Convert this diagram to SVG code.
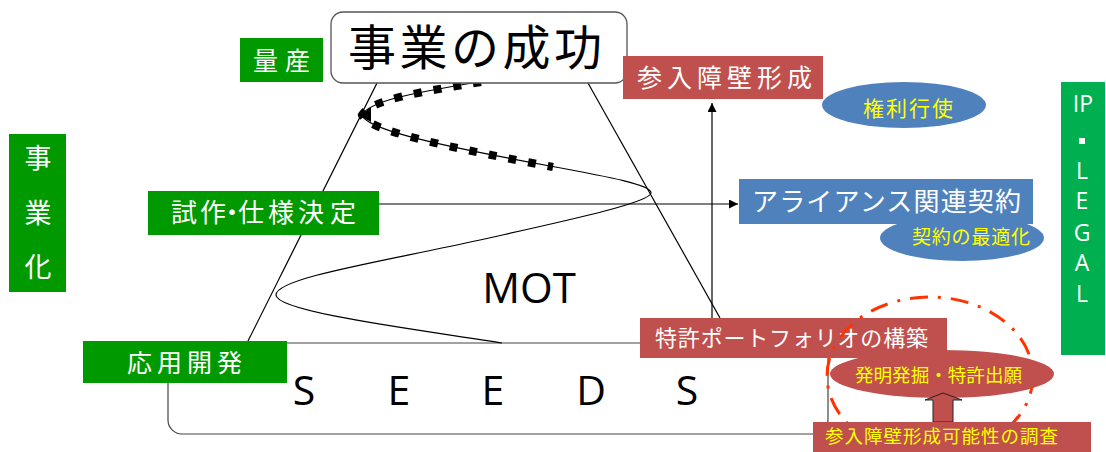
<svg xmlns="http://www.w3.org/2000/svg" width="1106" height="452" viewBox="0 0 1106 452">
<defs>
<style>
.jp{font-family:"Noto Sans CJK JP","Noto Sans",sans-serif;}
.lat{font-family:"Open Sans","Noto Sans",sans-serif;fill:#000;}
.g{fill:#009900;}
.gl{fill:#00b050;}
.r{fill:#c0504d;}
.b{fill:#4f81bd;}
.w{fill:#ffffff;}
.y{fill:#ffff00;}
.ln{stroke:#000;stroke-width:1.2;fill:none;}
</style>
<marker id="ah" viewBox="0 0 10 10" refX="10" refY="5" markerWidth="9" markerHeight="9" markerUnits="userSpaceOnUse" orient="auto">
<path d="M0,0 L10,5 L0,10 z" fill="#000"/>
</marker>
</defs>
<rect width="1106" height="452" fill="#fff"/>

<g id="connectors">
<rect x="168" y="343" width="660" height="91" rx="14" fill="none" stroke="#444" stroke-width="1.2"/>
<line class="ln" x1="377" y1="83" x2="248" y2="341"/>
<line class="ln" x1="588" y1="83" x2="720" y2="318"/>
<line class="ln" x1="379" y1="204" x2="738" y2="204" marker-end="url(#ah)"/>
<line class="ln" x1="712" y1="318" x2="712" y2="103" marker-end="url(#ah)"/>
<path class="ln" d="M478,82 C420,92 370,100 362,115 C366,128 420,142 550,166 C610,177 652,185 651,193 C650,203 560,222 480,240 C380,262 276,278 276,295 C276,312 420,330 502,343"/>
<path d="M481,82 C420,92 370,100 362,115 C366,128 420,142 553,167" fill="none" stroke="#000" stroke-width="8" stroke-dasharray="8 12"/>
<polygon points="360,116 371,107 371,122" fill="#000"/>
</g>

<g id="success">
<rect x="331" y="12" width="296" height="71" rx="12" fill="#fff" stroke="#555" stroke-width="1.3"/>
<text class="jp" x="348" y="65" font-size="48" fill="#000" textLength="254" lengthAdjust="spacing">事業の成功</text>
</g>

<g id="ryosan">
<rect class="g" x="240" y="38" width="83" height="44"/>
<text class="jp w" x="253" y="70" font-size="25" textLength="57" lengthAdjust="spacing">量産</text>
</g>

<g id="jigyoka">
<rect class="g" x="9" y="134" width="57" height="158"/>
<text class="jp w" x="38" y="168" font-size="27" text-anchor="middle">事</text>
<text class="jp w" x="38" y="223" font-size="27" text-anchor="middle">業</text>
<text class="jp w" x="38" y="277" font-size="27" text-anchor="middle">化</text>
</g>

<g id="shisaku">
<rect class="g" x="148" y="191" width="231" height="44"/>
<text class="jp w" x="171 200 219 238 268 298 330" y="222" font-size="26">試作・仕様決定</text>
</g>

<g id="oyo">
<rect class="g" x="83" y="341" width="204" height="42"/>
<text class="jp w" x="127" y="372" font-size="25" textLength="115" lengthAdjust="spacing">応用開発</text>
</g>

<g id="mot">
<text class="lat" x="529" y="303" font-size="42" text-anchor="middle">MOT</text>
</g>

<g id="seeds">
<text class="lat" x="304" y="405" font-size="41" text-anchor="middle">S</text>
<text class="lat" x="399" y="405" font-size="41" text-anchor="middle">E</text>
<text class="lat" x="493" y="405" font-size="41" text-anchor="middle">E</text>
<text class="lat" x="591" y="405" font-size="41" text-anchor="middle">D</text>
<text class="lat" x="687" y="405" font-size="41" text-anchor="middle">S</text>
</g>

<g id="sannyu">
<rect class="r" x="623" y="56" width="200" height="43"/>
<text class="jp w" x="637" y="87" font-size="25" textLength="175" lengthAdjust="spacing">参入障壁形成</text>
</g>

<g id="kenri">
<ellipse class="b" cx="904" cy="105" rx="82" ry="23"/>
<text class="jp y" x="863" y="116" font-size="21" textLength="90" lengthAdjust="spacing">権利行使</text>
</g>

<g id="keiyaku">
<ellipse class="b" cx="962" cy="238" rx="82" ry="23"/>
<text class="jp y" x="912" y="244" font-size="19" textLength="118" lengthAdjust="spacing">契約の最適化</text>
</g>

<g id="alliance">
<rect class="b" x="739" y="179" width="294" height="45"/>
<text class="jp w" x="752" y="211" font-size="26" textLength="269" lengthAdjust="spacing">アライアンス関連契約</text>
</g>

<g id="iplegal">
<rect class="gl" x="1061" y="82" width="44" height="273"/>
<text class="lat" x="1083" y="112" font-size="23" text-anchor="middle" fill="#fff" style="fill:#fff">IP</text>
<rect x="1079" y="138" width="6" height="6" fill="#fff"/>
<text class="lat" x="1082" y="179" font-size="23" text-anchor="middle" style="fill:#fff">L</text>
<text class="lat" x="1082" y="209" font-size="23" text-anchor="middle" style="fill:#fff">E</text>
<text class="lat" x="1082" y="241" font-size="23" text-anchor="middle" style="fill:#fff">G</text>
<text class="lat" x="1082" y="271" font-size="23" text-anchor="middle" style="fill:#fff">A</text>
<text class="lat" x="1082" y="302" font-size="23" text-anchor="middle" style="fill:#fff">L</text>
</g>

<g id="portfolio">
<rect class="r" x="640" y="318" width="307" height="40"/>
<text class="jp w" x="655" y="346" font-size="22" textLength="273" lengthAdjust="spacing">特許ポートフォリオの構築</text>
</g>

<g id="circle">
<ellipse cx="930" cy="376" rx="103" ry="79" fill="none" stroke="#ff3300" stroke-width="3" stroke-dasharray="18 10 3 10"/>
</g>

<g id="hatsumei">
<ellipse class="r" cx="942" cy="374" rx="112" ry="24"/>
<text class="jp y" x="855" y="382" font-size="18.5" textLength="167" lengthAdjust="spacing">発明発掘・特許出願</text>
</g>

<g id="uparrow">
<polygon points="943,393 962,400 953,400 953,422 933,422 933,400 925,400" fill="#c0504d" stroke="#222" stroke-width="1"/>
</g>

<g id="chosa">
<rect class="r" x="813" y="422" width="278" height="32"/>
<text class="jp y" x="825" y="443" font-size="18.5" textLength="233" lengthAdjust="spacing">参入障壁形成可能性の調査</text>
</g>
</svg>
